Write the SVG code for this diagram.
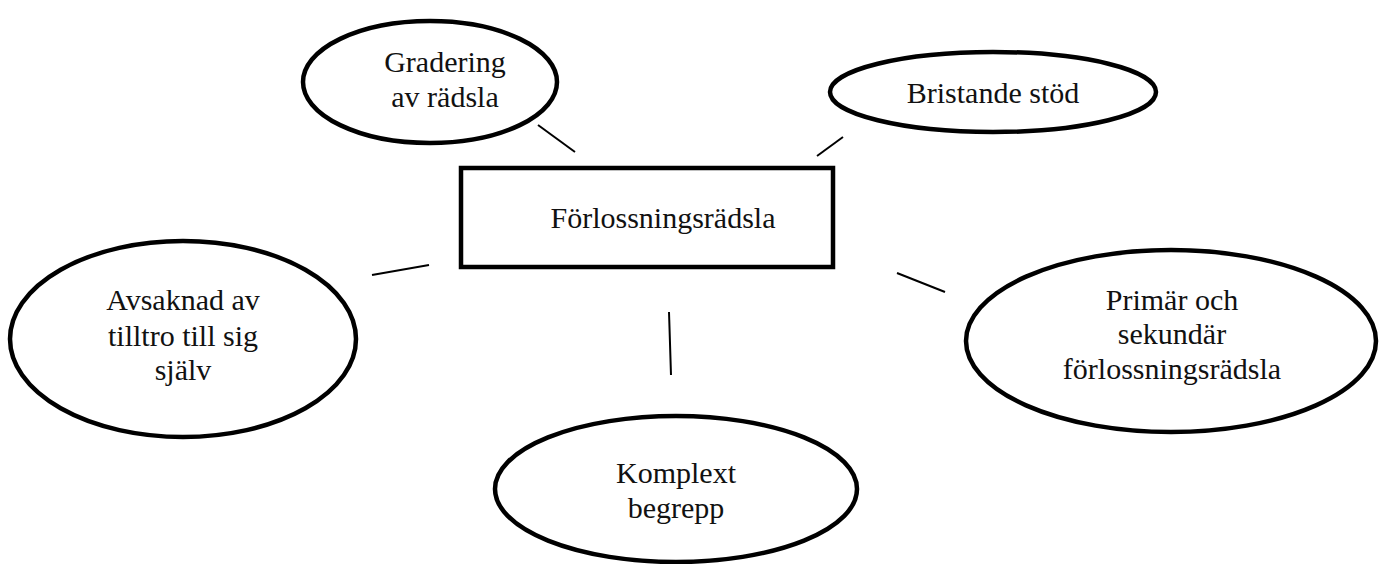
<svg xmlns="http://www.w3.org/2000/svg" width="1387" height="564" viewBox="0 0 1387 564">
<style>
.n{fill:#fff;stroke:#000;stroke-width:4.5}
.c{stroke:#000;stroke-width:2;fill:none}
text{font-family:"Liberation Serif","Times New Roman",serif;font-size:30px;fill:#111;text-anchor:middle}
</style>
<rect width="1387" height="564" fill="#fff"/>
<g id="connectors">
<line class="c" x1="538" y1="125" x2="575" y2="152"/>
<line class="c" x1="843" y1="137" x2="817" y2="156"/>
<line class="c" x1="372" y1="275" x2="429" y2="265"/>
<line class="c" x1="897" y1="273" x2="945" y2="292"/>
<line class="c" x1="669" y1="312" x2="671" y2="375"/>
</g>
<g id="center">
<rect class="n" x="461" y="168" width="372" height="99" stroke-width="5"/>
<text x="663" y="228">Förlossningsrädsla</text>
</g>
<g id="gradering">
<ellipse class="n" cx="430" cy="82" rx="127" ry="61"/>
<text x="445" y="72">Gradering</text>
<text x="445" y="107">av rädsla</text>
</g>
<g id="bristande">
<ellipse class="n" cx="993" cy="92" rx="163" ry="40"/>
<text x="993" y="103">Bristande stöd</text>
</g>
<g id="avsaknad">
<ellipse class="n" cx="183" cy="339" rx="173" ry="98"/>
<text x="183" y="310">Avsaknad av</text>
<text x="183" y="346">tilltro till sig</text>
<text x="183" y="380">själv</text>
</g>
<g id="primar">
<ellipse class="n" cx="1171" cy="341" rx="205" ry="91"/>
<text x="1172" y="310">Primär och</text>
<text x="1172" y="344">sekundär</text>
<text x="1172" y="379">förlossningsrädsla</text>
</g>
<g id="komplext">
<ellipse class="n" cx="676" cy="489" rx="181" ry="73"/>
<text x="676" y="483">Komplext</text>
<text x="676" y="518">begrepp</text>
</g>
</svg>
